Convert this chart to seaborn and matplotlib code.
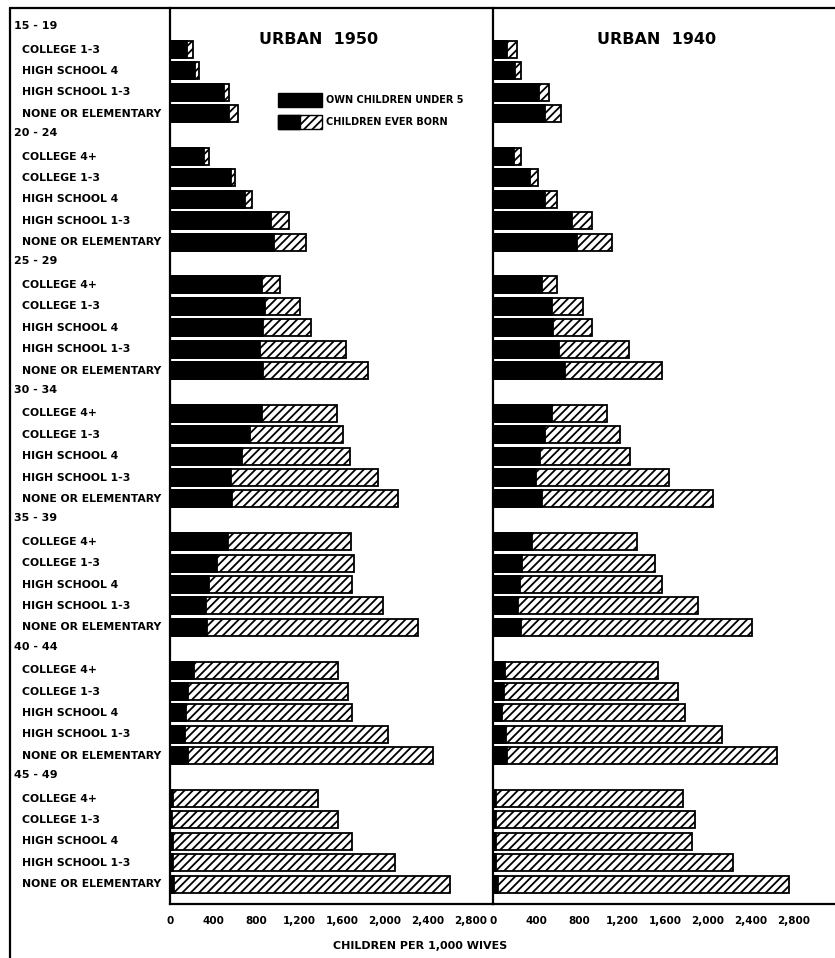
import seaborn as sns
import matplotlib.pyplot as plt
import matplotlib.patches as mpatches
import matplotlib.transforms as mtransforms
from matplotlib.lines import Line2D
import pandas as pd

sns.set_style('white')
plt.rcParams['font.family'] = ['DejaVu Sans']
plt.rcParams['text.color'] = 'black'
plt.rcParams['xtick.color'] = 'black'
plt.rcParams['hatch.color'] = 'black'
plt.rcParams['hatch.linewidth'] = 1.3

age_groups = ['15 - 19', '20 - 24', '25 - 29', '30 - 34', '35 - 39', '40 - 44', '45 - 49']
education = ['College 4+', 'College 1-3', 'High School 4', 'High School 1-3', 'None or Elementary']

# 15-19 has no "College 4+" row
own_1950 = [
    [160, 235, 500, 550],
    [315, 565, 700, 940, 965],
    [855, 885, 865, 840, 865],
    [855, 745, 670, 565, 575],
    [540, 435, 365, 335, 345],
    [225, 165, 150, 140, 165],
    [28, 20, 28, 28, 35],
]
ever_1950 = [
    [215, 270, 550, 635],
    [365, 605, 765, 1105, 1265],
    [1025, 1210, 1310, 1635, 1840],
    [1555, 1610, 1675, 1935, 2120],
    [1685, 1710, 1695, 1980, 2305],
    [1565, 1655, 1695, 2030, 2445],
    [1375, 1565, 1695, 2095, 2605],
]
own_1940 = [
    [130, 205, 430, 485],
    [195, 345, 485, 735, 780],
    [455, 550, 560, 615, 670],
    [550, 485, 435, 400, 455],
    [365, 270, 250, 235, 260],
    [110, 100, 85, 120, 130],
    [28, 28, 28, 28, 45],
]
ever_1940 = [
    [225, 260, 520, 635],
    [260, 420, 595, 920, 1105],
    [595, 835, 920, 1265, 1570],
    [1060, 1180, 1275, 1635, 2045],
    [1340, 1505, 1570, 1905, 2410],
    [1535, 1720, 1785, 2130, 2640],
    [1765, 1880, 1850, 2235, 2755],
]

# build one row per bar, with a slot number that leaves room for the age headers
rows = []
headers = []
slot = 0
for g, age in enumerate(age_groups):
    headers.append((slot, age))
    slot += 1
    eds = education[1:] if g == 0 else education
    for e, ed in enumerate(eds):
        rows.append({'age': age, 'educ': ed, 'slot': slot,
                     'own_1950': own_1950[g][e], 'ever_1950': ever_1950[g][e],
                     'own_1940': own_1940[g][e], 'ever_1940': ever_1940[g][e]})
        slot += 1
df = pd.DataFrame(rows)

W, H = 835, 958
fig = plt.figure(figsize=(W / 100, H / 100), dpi=100)
ax_top, ax_bot = 8, 904
x_split = 493
ax1 = fig.add_axes([170 / W, 1 - ax_bot / H, (x_split - 170) / W, (ax_bot - ax_top) / H])
ax2 = fig.add_axes([x_split / W, 1 - ax_bot / H, (W - x_split) / W, (ax_bot - ax_top) / H])

px_per_unit = 0.1075
panels = [(ax1, '1950', (x_split - 170) / px_per_unit, 0.46),
          (ax2, '1940', (W - x_split) / px_per_unit, 0.477)]
tick_font = dict(fontsize=7.5, fontweight='bold')
for ax, yr, xmax, tx in panels:
    sns.barplot(data=df, x='ever_' + yr, y='slot', orient='y', native_scale=True,
                color='white', edgecolor='black', hatch='////', linewidth=1.3,
                width=0.8, saturation=1, errorbar=None, ax=ax)
    sns.barplot(data=df, x='own_' + yr, y='slot', orient='y', native_scale=True,
                color='black', edgecolor='black', linewidth=1.3,
                width=0.8, saturation=1, errorbar=None, ax=ax)
    ax.set_xlim(0, xmax)
    ax.set_ylim(40.93, -0.94)
    ax.set_yticks([])
    ax.set_xlabel('')
    ax.set_ylabel('')
    ticks = list(range(0, 3200, 400))
    ax.set_xticks(ticks)
    ax.set_xticklabels([f'{t:,}' for t in ticks], **tick_font)
    ax.tick_params(axis='x', direction='out', length=4, width=1.2, pad=5, colors='black')
    for s in ['top', 'right']:
        ax.spines[s].set_visible(False)
    for s in ['left', 'bottom']:
        ax.spines[s].set_color('black')
        ax.spines[s].set_linewidth(1.6)
    ax.set_facecolor('none')
    ax.text(tx, 0.965, 'URBAN  ' + yr, transform=ax.transAxes,
            ha='center', va='center', fontsize=11.5, fontweight='bold')

# row labels in the left column
trans = mtransforms.blended_transform_factory(fig.transFigure, ax1.transData)
for s, age in headers:
    ax1.text(14 / W, s - 0.1, age, transform=trans, ha='left', va='center',
             fontsize=8, fontweight='bold', clip_on=False)
for _, r in df.iterrows():
    ax1.text(22 / W, r['slot'], r['educ'].upper(), transform=trans, ha='left',
             va='center', fontsize=7.8, fontweight='bold', clip_on=False)

# legend
ft = fig.transFigure
fig.patches.append(mpatches.Rectangle((278 / W, 1 - 107 / H), 44 / W, 14 / H, transform=ft,
                                      facecolor='black', edgecolor='black', lw=1))
fig.patches.append(mpatches.Rectangle((278 / W, 1 - 129 / H), 44 / W, 14 / H, transform=ft,
                                      facecolor='white', edgecolor='black', hatch='////', lw=1))
fig.patches.append(mpatches.Rectangle((278 / W, 1 - 129 / H), 22 / W, 14 / H, transform=ft,
                                      facecolor='black', edgecolor='black', lw=1))
fig.text(326 / W, 1 - 100 / H, 'OWN CHILDREN UNDER 5', fontsize=7, fontweight='bold', va='center')
fig.text(326 / W, 1 - 122 / H, 'CHILDREN EVER BORN', fontsize=7, fontweight='bold', va='center')

fig.text(420 / W, 1 - 946 / H, 'CHILDREN PER 1,000 WIVES', ha='center', va='center',
         fontsize=8, fontweight='bold')

# outer frame
fig.add_artist(Line2D([10 / W, 1], [1 - 8 / H, 1 - 8 / H], transform=ft, color='black', lw=1.6))
fig.add_artist(Line2D([10 / W, 10 / W], [1 - 8 / H, 0], transform=ft, color='black', lw=1.6))

fig.savefig('out.png', dpi=100)
